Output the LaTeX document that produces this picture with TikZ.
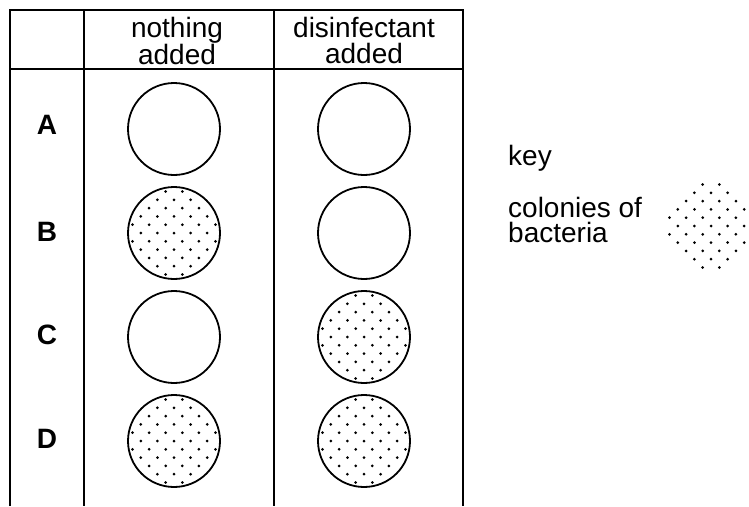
\documentclass[tikz,border=0pt]{standalone}
\usepackage{fontspec}
\setmainfont{Liberation Sans}
\usetikzlibrary{positioning}

\tikzset{
  rule/.style={line width=1.8pt},
  dish/.style={circle, draw=black, line width=1.8pt, minimum size=92pt, inner sep=0pt},
  head/.style={align=center, inner sep=0pt, anchor=north, font=\fontsize{28}{26}\selectfont},
  rowlabel/.style={inner sep=0pt, font=\fontsize{28}{28}\selectfont\bfseries},
  keytext/.style={align=left, inner sep=0pt, font=\fontsize{28}{25}\selectfont}
}

% staggered dots for the colonies: centre x, centre y, radius
\newcommand{\colonydots}[3]{%
  \begin{scope}
    \clip (#1,#2) circle[radius=#3pt];
    \foreach \j in {-6,...,6}
      \foreach \i in {-3,...,3}
        \fill ({#1+\i*16.6+mod(\j+6,2)*8.3},{#2+\j*8.3}) circle[radius=1.5pt];
  \end{scope}}

\begin{document}
\begin{tikzpicture}[x=1pt, y=-1pt]
  \useasboundingbox (0,0) rectangle (749,506);

  % table
  \draw[rule] (10,506) -- (10,10) -- (463,10) -- (463,506);
  \draw[rule] (84,10) -- (84,506);
  \draw[rule] (274,10) -- (274,506);
  \draw[rule] (10,69) -- (463,69);

  \node[head] (nothing) at (177,17) {nothing\\added};
  \node[head] (disinf) at (364,17) {disinfectant\\added};

  % row letters
  \node[rowlabel] (rA) at (47,125) {A};
  \node[rowlabel] (rB) at (47,232) {B};
  \node[rowlabel] (rC) at (47,335) {C};
  \node[rowlabel] (rD) at (47,439) {D};

  % colonies
  \colonydots{174}{233}{46}
  \colonydots{364}{337}{46}
  \colonydots{174}{441}{46}
  \colonydots{364}{441}{46}

  % dishes
  \node[dish] (dA1) at (174,129) {};
  \node[dish] (dA2) at (364,129) {};
  \node[dish] (dB1) at (174,233) {};
  \node[dish] (dB2) at (364,233) {};
  \node[dish] (dC1) at (174,337) {};
  \node[dish] (dC2) at (364,337) {};
  \node[dish] (dD1) at (174,441) {};
  \node[dish] (dD2) at (364,441) {};

  % key
  \node[keytext, anchor=base west] (key) at (508,165) {key};
  \node[keytext, anchor=north west] (colonies) at (508,197) {colonies of\\bacteria};
  \colonydots{711}{226}{44}

\end{tikzpicture}
\end{document}
